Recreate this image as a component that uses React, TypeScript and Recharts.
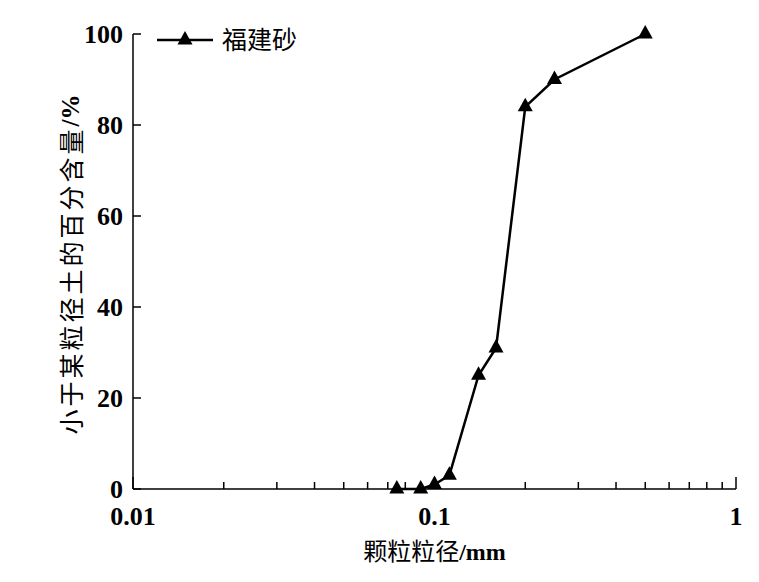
import React from "react"
import { LineChart, Line, XAxis, YAxis } from "recharts"

// grain size distribution, 福建砂
const seriesName = "福建砂"
const grainSizes = [0.075, 0.09, 0.1, 0.112, 0.14, 0.16, 0.2, 0.25, 0.5]
const percentFiner = [0, 0, 1, 3, 25, 31, 84, 90, 100]

const xMajorTicks = [0.01, 0.1, 1]
const xMinorTicks = [0.02, 0.03, 0.04, 0.05, 0.06, 0.07, 0.08, 0.09, 0.2, 0.3, 0.4, 0.5, 0.6, 0.7, 0.8, 0.9]
const yTicks = [0, 20, 40, 60, 80, 100]

const xTitle = "颗粒粒径"
const xTitleUnit = "/mm"
const yTitleCjk = "小于某粒径土的百分含量"
const yTitleUnit = "/%"

const data = grainSizes.map((d, i) => ({ d, p: percentFiner[i] }))

const numFont = "'Liberation Serif', 'Times New Roman', serif"
const cjkFont = "'Noto Sans CJK SC', sans-serif"

function Triangle({ cx, cy, size = 15 }: { cx: number; cy: number; size?: number }) {
    const h = size * 0.9
    return (
        <polygon
            points={`${cx},${cy - (h * 2) / 3} ${cx - size / 2},${cy + h / 3} ${cx + size / 2},${cy + h / 3}`}
            fill="#000"
        />
    )
}

function XTick(props: any) {
    const { x, y, payload } = props
    const major = xMajorTicks.includes(payload.value)
    return (
        <g>
            <line x1={x} x2={x} y1={y} y2={y - (major ? 12 : 7)} stroke="#000" strokeWidth={1.5} />
            {major && (
                <text x={x} y={y + 36} textAnchor="middle" fontFamily={numFont} fontWeight="bold" fontSize={26} fill="#000">
                    {payload.value}
                </text>
            )}
        </g>
    )
}

function YTick(props: any) {
    const { x, y, payload } = props
    return (
        <g>
            <line x1={x} x2={x + 8} y1={y} y2={y} stroke="#000" strokeWidth={1.5} />
            <text x={x - 10} y={y + 9} textAnchor="end" fontFamily={numFont} fontWeight="bold" fontSize={26} fill="#000">
                {payload.value}
            </text>
        </g>
    )
}

export default function App() {
    return (
        <div style={{ position: "absolute", left: 0, top: 0, width: 759, height: 582, background: "#fff" }}>
            <LineChart width={759} height={582} data={data} margin={{ top: 34, right: 23, bottom: 0, left: 0 }}>
                <XAxis
                    dataKey="d"
                    type="number"
                    scale="log"
                    domain={[0.01, 1]}
                    allowDataOverflow
                    ticks={[...xMajorTicks, ...xMinorTicks]}
                    interval={0}
                    tickLine={false}
                    tickSize={0}
                    tickMargin={0}
                    height={93}
                    axisLine={{ stroke: "#000", strokeWidth: 1.5 }}
                    tick={<XTick />}
                    label={{
                        content: (p: any) => {
                            const vb = p.viewBox
                            return (
                                <text x={vb.x + vb.width / 2} y={vb.y + 71} textAnchor="middle" fontSize={24} fill="#000">
                                    <tspan fontFamily={cjkFont}>{xTitle}</tspan>
                                    <tspan fontFamily={numFont} fontWeight="bold">{xTitleUnit}</tspan>
                                </text>
                            )
                        },
                    }}
                />
                <YAxis
                    type="number"
                    domain={[0, 100]}
                    ticks={yTicks}
                    interval={0}
                    tickLine={false}
                    tickSize={0}
                    tickMargin={0}
                    width={133}
                    axisLine={{ stroke: "#000", strokeWidth: 1.5 }}
                    tick={<YTick />}
                    label={{
                        content: (p: any) => {
                            const vb = p.viewBox
                            const cx = 70
                            const cy = vb.y + vb.height / 2 + 3
                            return (
                                <text
                                    x={cx}
                                    y={cy}
                                    textAnchor="middle"
                                    dominantBaseline="central"
                                    fontSize={25}
                                    fill="#000"
                                    transform={`rotate(-90 ${cx} ${cy})`}
                                >
                                    <tspan fontFamily={cjkFont} letterSpacing={3}>{yTitleCjk}</tspan>
                                    <tspan fontFamily={numFont} fontWeight="bold">{yTitleUnit}</tspan>
                                </text>
                            )
                        },
                    }}
                />
                <Line
                    dataKey="p"
                    name={seriesName}
                    stroke="#000"
                    strokeWidth={2.5}
                    isAnimationActive={false}
                    dot={(p: any) => <Triangle key={p.index} cx={p.cx} cy={p.cy} />}
                    activeDot={false}
                />
            </LineChart>
            <svg style={{ position: "absolute", left: 150, top: 17 }} width={220} height={56}>
                <line x1={7} x2={63} y1={23} y2={23} stroke="#000" strokeWidth={2.5} />
                <Triangle cx={35} cy={23} />
                <text x={72} y={32} fontFamily={cjkFont} fontSize={25} fill="#000">
                    {seriesName}
                </text>
            </svg>
        </div>
    )
}
